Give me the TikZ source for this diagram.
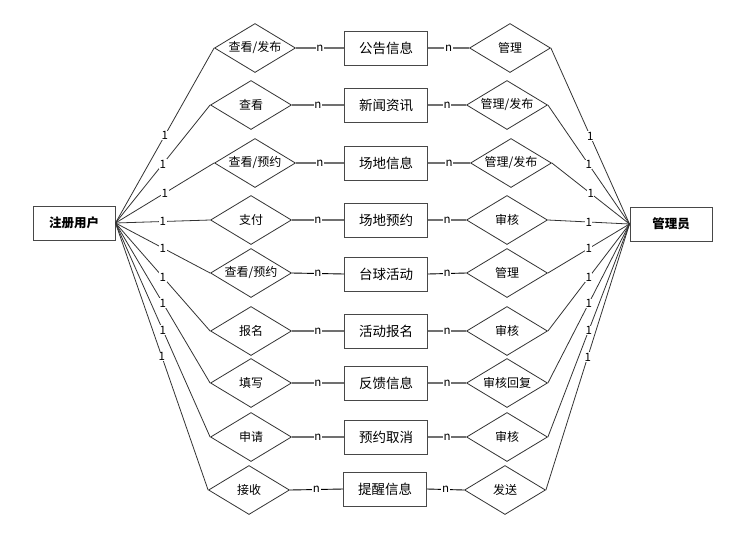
\documentclass[tikz,border=0pt]{standalone}
\usepackage{fontspec}
\setmainfont{Noto Sans CJK SC}
\usetikzlibrary{shapes.geometric}
\definecolor{edgegray}{HTML}{333333}
\definecolor{boxgray}{HTML}{484848}
\definecolor{ngray}{HTML}{707070}
\begin{document}
\begin{tikzpicture}[x=1pt,y=-1pt,
  entbox/.style={draw=boxgray,line width=1pt,minimum width=83pt,minimum height=34pt,inner sep=0pt,font=\fontsize{13.5}{14}\selectfont},
  keybox/.style={draw=boxgray,line width=1pt,minimum width=82pt,minimum height=34pt,inner sep=0pt,font=\bfseries\fontsize{12.5}{13}\selectfont},
  rel/.style={diamond,draw=edgegray,line width=0.8pt,minimum width=81pt,minimum height=49pt,inner sep=0pt,
    label={[font=\fontsize{12}{13}\selectfont]center:#1}},
  diag/.style={draw=edgegray,line width=0.8pt},
  nline/.style={draw=ngray,line width=1.4pt},
  nlineb/.style={draw=black,line width=0.9pt},
  card/.style={fill=white,inner sep=0.6pt,font=\fontsize{11.5}{12}\selectfont,text=black},
]
\useasboundingbox (0,0) rectangle (742,547);
\fill[white] (0,0) rectangle (742,547);

\node[keybox] (user) at (74,223) {注册用户};
\node[keybox] (admin) at (671,224) {管理员};

% left relations
\node[rel={查看/发布}] (l1) at (255,48) {};
\node[rel={查看}] (l2) at (251,105) {};
\node[rel={查看/预约}] (l3) at (255,163) {};
\node[rel={支付}] (l4) at (251,220) {};
\node[rel={查看/预约}] (l5) at (251,273) {};
\node[rel={报名}] (l6) at (251,331) {};
\node[rel={填写}] (l7) at (251,383) {};
\node[rel={申请}] (l8) at (251,437) {};
\node[rel={接收}] (l9) at (249,490) {};

% entities
\node[entbox] (e1) at (386,48) {公告信息};
\node[entbox] (e2) at (386,105) {新闻资讯};
\node[entbox] (e3) at (386,163) {场地信息};
\node[entbox] (e4) at (386,220) {场地预约};
\node[entbox] (e5) at (386,274) {台球活动};
\node[entbox] (e6) at (386,331) {活动报名};
\node[entbox] (e7) at (386,383) {反馈信息};
\node[entbox] (e8) at (386,437) {预约取消};
\node[entbox] (e9) at (385,489) {提醒信息};

% right relations
\node[rel={管理}] (r1) at (510,48) {};
\node[rel={管理/发布}] (r2) at (507,105) {};
\node[rel={管理/发布}] (r3) at (511,163) {};
\node[rel={审核}] (r4) at (507,220) {};
\node[rel={管理}] (r5) at (507,273) {};
\node[rel={审核}] (r6) at (507,331) {};
\node[rel={审核回复}] (r7) at (507,383) {};
\node[rel={审核}] (r8) at (507,437) {};
\node[rel={发送}] (r9) at (505,490) {};

% cardinality connectors
\foreach \i in {1,...,9}{
  \draw[diag] (user.east) -- (l\i.west) node[card,pos=0.5] {1};
  \draw[diag] (r\i.east) -- (admin.west) node[card,pos=0.5] {1};
}
\foreach \i in {1,2,3,4,6,7,8}{
  \draw[nline] (l\i.east) -- (e\i.west) node[card,pos=0.5] {n};
  \draw[nline] (e\i.east) -- (r\i.west) node[card,pos=0.5] {n};
}
\foreach \i in {5,9}{
  \draw[nlineb] (l\i.east) -- (e\i.west) node[card,pos=0.5] {n};
  \draw[nlineb] (e\i.east) -- (r\i.west) node[card,pos=0.5] {n};
}
\end{tikzpicture}
\end{document}
